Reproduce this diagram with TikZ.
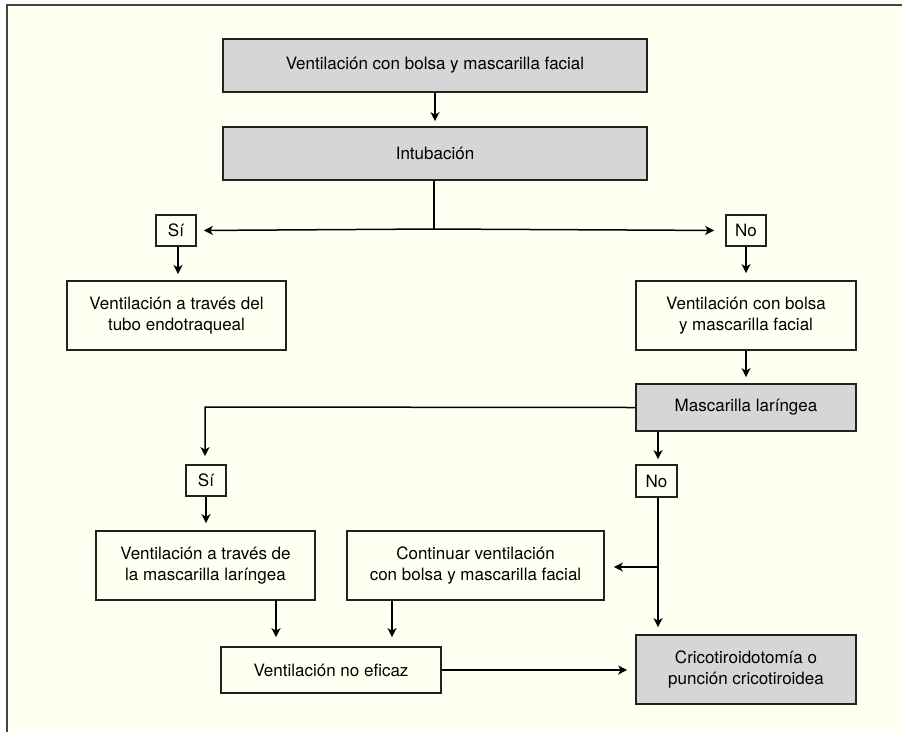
\documentclass[tikz,border=0pt]{standalone}
\usepackage{fontspec}
\setmainfont{TeX Gyre Heros}
\usetikzlibrary{arrows.meta}
\definecolor{cream}{HTML}{FFFFF2}
\definecolor{boxgray}{HTML}{D6D6D6}
\definecolor{edge}{HTML}{222222}
\tikzset{
  box/.style={draw=edge, line width=1.7pt, rectangle, align=center, inner sep=0pt,
    font=\fontsize{17}{21.5}\selectfont, fill=cream},
  graybox/.style={box, fill=boxgray},
  tag/.style={box},
  conn/.style={line width=1.5pt, draw=black},
  arr/.style={conn, -{Stealth[length=9pt,width=9pt,inset=2.5pt]}},
}
\begin{document}
\begin{tikzpicture}[x=1pt,y=-1pt]
\useasboundingbox (0,0) rectangle (902,732);
\fill[white] (0,0) rectangle (902,732);
\fill[cream] (7,5) rectangle (902,732);
\draw[line width=1.8pt, draw=edge!85] (7,732) -- (7,5) -- (902,5);

\node[graybox, minimum width=424pt, minimum height=53pt] (b1) at (435,65.5) {Ventilación con bolsa y mascarilla facial};
\node[graybox, minimum width=424pt, minimum height=53pt] (b2) at (435,153.5) {Intubación};
\node[tag, minimum width=40pt, minimum height=31pt] (si1) at (176,230.5) {Sí};
\node[tag, minimum width=40pt, minimum height=31pt] (no1) at (746,230.5) {No};
\node[box, minimum width=219pt, minimum height=69pt] (tubo) at (176.5,315.5) {Ventilación a través del\\tubo endotraqueal};
\node[box, minimum width=220pt, minimum height=69pt] (bolsa) at (746,315.5) {Ventilación con bolsa\\y mascarilla facial};
\node[graybox, minimum width=220pt, minimum height=47pt] (ml) at (746,407.5) {Mascarilla laríngea};
\node[tag, minimum width=40pt, minimum height=31pt] (si2) at (206,480.5) {Sí};
\node[tag, minimum width=41pt, minimum height=32pt] (no2) at (656.5,481) {No};
\node[box, minimum width=219pt, minimum height=69pt] (vml) at (205.5,565.5) {Ventilación a través de\\la mascarilla laríngea};
\node[box, minimum width=257pt, minimum height=69pt] (cont) at (475.5,565.5) {Continuar ventilación\\con bolsa y mascarilla facial};
\node[box, minimum width=220pt, minimum height=46pt] (noef) at (331,670) {Ventilación no eficaz};
\node[graybox, minimum width=220pt, minimum height=69pt] (crico) at (746,669.5) {Cricotiroidotomía o\\punción cricotiroidea};

\coordinate (j1) at (434,229);
\coordinate (j2) at (205,407);
\coordinate (j3) at (658,567);
\coordinate (vmlout) at (276,600);
\coordinate (contout) at (392,600);

\draw[arr, shorten >=5pt] (b1.south) -- (b2.north);
\draw[conn] (b2.south -| j1) -- (j1);
\draw[arr, shorten >=7pt] (j1) -- (si1.east);
\draw[arr, shorten >=11pt] (j1) -- (no1.west);
\draw[arr, shorten >=7pt] (si1.south -| 178,0) -- (178,281);
\draw[arr, shorten >=7pt] (no1.south) -- (bolsa.north);
\draw[arr, shorten >=6pt] (bolsa.south) -- (ml.north);
\draw[arr, shorten >=8pt] (ml.west) -- (j2) -- (si2.north -| j2);
\draw[arr, shorten >=7pt] (si2.south) -- (vml.north -| si2.south);
\draw[arr, shorten >=5pt] (ml.south -| 658,0) -- (no2.north -| 658,0);
\draw[arr, shorten >=7pt] (no2.south -| 658,0) -- (crico.north -| 658,0);
\draw[arr, shorten >=9pt] (j3) -- (cont.east |- j3);
\draw[arr, shorten >=9pt] (vmlout) -- (noef.north -| vmlout);
\draw[arr, shorten >=9pt] (contout) -- (noef.north -| contout);
\draw[arr, shorten >=8pt] (noef.east) -- (crico.west |- noef.east);
\end{tikzpicture}
\end{document}
